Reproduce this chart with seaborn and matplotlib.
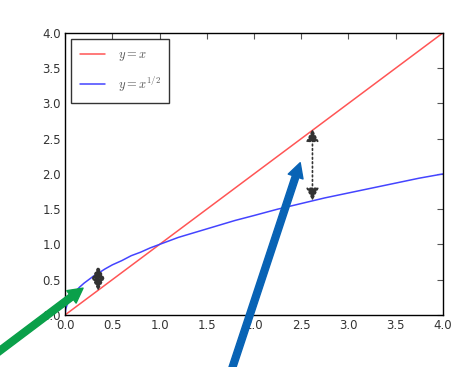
import matplotlib
matplotlib.use("Agg")
import matplotlib.pyplot as plt
import seaborn as sns
import pandas as pd

sns.set_style("white")
plt.rcParams['font.family'] = ['DejaVu Sans']
plt.rcParams['mathtext.fontset'] = 'cm'

# data
x_lin = [0.0, 4.0]
y_lin = [0.0, 4.0]
x_sqrt = [0.0, 0.005, 0.01, 0.02, 0.03, 0.05, 0.07, 0.1, 0.15, 0.2, 0.25, 0.3, 0.35, 0.42, 0.5,
          0.6, 0.7, 0.8, 0.9, 1.0, 1.2, 1.4, 1.6, 1.8, 2.0, 2.25, 2.5, 2.75, 3.0, 3.25, 3.5, 3.75, 4.0]
y_sqrt = [0.0, 0.07, 0.10, 0.14, 0.17, 0.22, 0.26, 0.32, 0.39, 0.45, 0.50, 0.55, 0.59, 0.65, 0.71,
          0.77, 0.84, 0.89, 0.95, 1.0, 1.10, 1.18, 1.26, 1.34, 1.41, 1.50, 1.58, 1.66, 1.73, 1.80, 1.87, 1.94, 2.0]
gap_x = [0.35, 2.62]
gap_top = [0.70, 2.64]
gap_bottom = [0.34, 1.62]
ticks = [0.0, 0.5, 1.0, 1.5, 2.0, 2.5, 3.0, 3.5, 4.0]
labels = ["$y = x$", "$y = x^{1/2}$"]

df_lin = pd.DataFrame({"x": x_lin, "y": y_lin})
df_sqrt = pd.DataFrame({"x": x_sqrt, "y": y_sqrt})

fig = plt.figure(figsize=(4.72, 3.67), dpi=100)
ax = fig.add_axes([0.138, 0.142, 0.8, 0.768])

sns.lineplot(data=df_lin, x="x", y="y", ax=ax, color="#ff5555", lw=1.1, label=labels[0])
sns.lineplot(data=df_sqrt, x="x", y="y", ax=ax, color="#4444ff", lw=1.1, label=labels[1])

for gx, gt, gb in zip(gap_x, gap_top, gap_bottom):
    ax.annotate("", xy=(gx, gt), xytext=(gx, gb),
                arrowprops=dict(arrowstyle="<|-|>", color="#333333", ls=":", lw=1.2,
                                mutation_scale=19, shrinkA=0, shrinkB=0))

astyle = "simple,head_length=0.75,head_width=0.8,tail_width=0.35"
ax.annotate("", xy=(0.19, 0.38), xytext=(-1.0, -0.82), annotation_clip=False,
            arrowprops=dict(arrowstyle=astyle, color="#0aa04a", mutation_scale=14,
                            shrinkA=0, shrinkB=0))
ax.annotate("", xy=(2.49, 2.16), xytext=(1.66, -1.2), annotation_clip=False,
            arrowprops=dict(arrowstyle=astyle, color="#0863b5", mutation_scale=14,
                            shrinkA=0, shrinkB=0))

ax.set_xlim(0, 4)
ax.set_ylim(0, 4)
ax.set_xticks(ticks)
ax.set_yticks(ticks)
ax.set_xticklabels([f"{t:.1f}" for t in ticks])
ax.set_yticklabels([f"{t:.1f}" for t in ticks])
ax.set_xlabel("")
ax.set_ylabel("")
ax.tick_params(direction="in", length=4, width=0.8, top=True, right=True,
               labelsize=8.5, labelcolor="#333333", color="#555555", pad=3)
for s in ax.spines.values():
    s.set_color("black")
    s.set_linewidth(1.0)

leg = ax.legend(loc="upper left", fontsize=9, frameon=True, fancybox=False,
                edgecolor="black", borderpad=0.7, labelspacing=0.9, handlelength=2.0,
                handletextpad=1.0, borderaxespad=0.5)
leg.get_frame().set_linewidth(1.0)
for t in leg.get_texts():
    t.set_color("#555555")

fig.savefig("out.png", dpi=100, facecolor="white")
